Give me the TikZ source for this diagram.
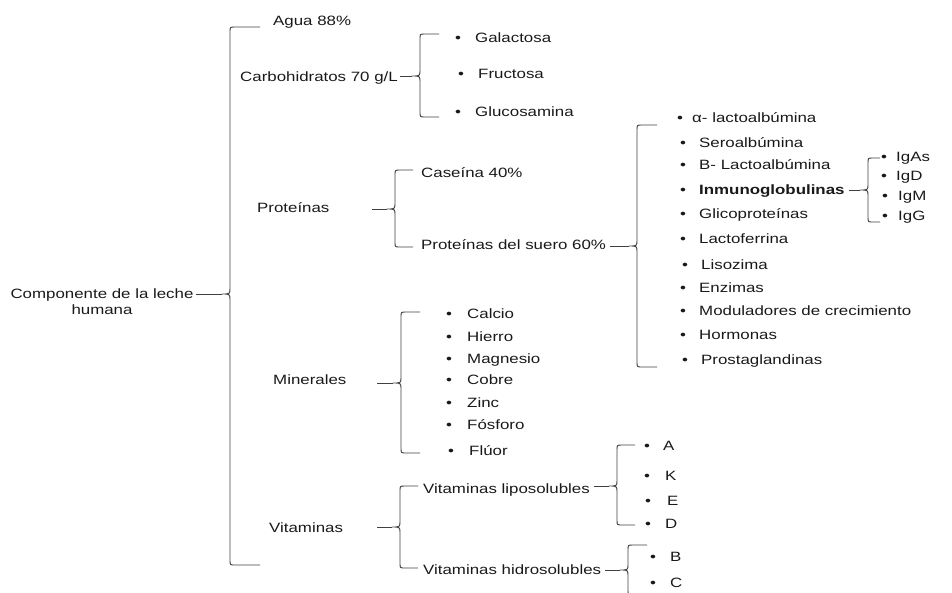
\documentclass[tikz,border=0pt]{standalone}
\usepackage{fontspec}
\setmainfont[FakeStretch=1.25]{Liberation Sans}
\usetikzlibrary{calc}
\tikzset{
  lbl/.style={anchor=base west, inner sep=0pt, text=black!90},
  bul/.style={anchor=base, inner sep=0pt, text=black!90},
  brc/.style={draw=black!75, line width=0.9pt, line join=round},
}
% #1 label name, #2 x, #3 y centre, #4 text
\newcommand{\mylab}[4]{\node[lbl] (#1) at (#2,#3+5) {#4};}
% #1 name, #2 bullet x, #3 text x, #4 y centre, #5 text
\newcommand{\myitem}[5]{\node[bul] (#1b) at (#2,#4+5) {\textbullet}; \node[lbl] (#1) at (#3,#4+5) {#5};}
% #1 tip name, #2 vertical x, #3 top, #4 middle, #5 bottom, #6 hook end x
\newcommand{\mybrace}[6]{%
  \coordinate (#1) at (#2-8,#4);
  \draw[brc] (#6,#3) -- (#2+5,#3) .. controls (#2,#3) .. (#2,#3+5) -- (#2,#4-6)
    .. controls (#2,#4) .. (#1) .. controls (#2,#4) .. (#2,#4+6) -- (#2,#5-5)
    .. controls (#2,#5) .. (#2+5,#5) -- (#6,#5);
}
\begin{document}
\begin{tikzpicture}[x=1pt,y=-1pt,font=\fontsize{13.5}{16}\selectfont]
\useasboundingbox (0,0) rectangle (952,592);
\clip (0,0) rectangle (952,592);

% root
\node[align=center, inner sep=0pt, text=black!90] (comp) at (102,302) {Componente de la leche\\humana};
\mybrace{mainT}{230}{27}{294}{565}{260}
\draw[brc] ($(comp.east |- mainT)+(2,0)$) -- (mainT);

% agua
\mylab{agua}{273}{20}{Agua 88\%}

% carbohidratos
\mylab{carb}{240}{76}{Carbohidratos 70 g/L}
\mybrace{carbT}{420}{34}{76}{117}{439}
\draw[brc] ($(carb.east |- carbT)+(2,0)$) -- (carbT);
\myitem{gal}{458}{475}{37}{Galactosa}
\myitem{fru}{461}{478}{73}{Fructosa}
\myitem{glu}{458}{475}{111}{Glucosamina}

% proteinas
\mylab{prot}{257}{207}{Proteínas}
\coordinate (protS) at (372,209);
\mybrace{protT}{395}{170}{209}{247}{413}
\draw[brc] (protS) -- (protT);
\mylab{cas}{421}{172}{Caseína 40\%}
\mylab{suero}{421}{244}{Proteínas del suero 60\%}
\mybrace{sueroT}{637}{125}{246}{367}{657}
\draw[brc] ($(suero.east |- sueroT)+(4,0)$) -- (sueroT);
\myitem{alfa}{680}{692}{117}{α- lactoalbúmina}
\myitem{sero}{683}{699}{142}{Seroalbúmina}
\myitem{blac}{683}{699}{164}{B- Lactoalbúmina}
\myitem{inm}{683}{699}{189}{\bfseries Inmunoglobulinas}
\myitem{gli}{683}{699}{213}{Glicoproteínas}
\myitem{lfe}{683}{699}{238}{Lactoferrina}
\myitem{lis}{685}{701}{264}{Lisozima}
\myitem{enz}{683}{699}{287}{Enzimas}
\myitem{mod}{683}{699}{310}{Moduladores de crecimiento}
\myitem{hor}{683}{699}{334}{Hormonas}
\myitem{pro}{685}{701}{359}{Prostaglandinas}
\mybrace{inmT}{868}{158}{190}{222}{880}
\draw[brc] ($(inm.east |- inmT)+(4,0)$) -- (inmT);
\myitem{iga}{884}{896}{156}{IgAs}
\myitem{igd}{884}{896}{175}{IgD}
\myitem{igm}{885}{898}{195}{IgM}
\myitem{igg}{885}{898}{215}{IgG}

% minerales
\mylab{min}{273}{379}{Minerales}
\coordinate (minS) at (377,383);
\mybrace{minT}{401}{312}{383}{453}{420}
\draw[brc] (minS) -- (minT);
\myitem{cal}{449}{467}{313}{Calcio}
\myitem{hie}{449}{467}{336}{Hierro}
\myitem{mag}{449}{467}{358}{Magnesio}
\myitem{cob}{449}{467}{379}{Cobre}
\myitem{zin}{449}{467}{402}{Zinc}
\myitem{fos}{449}{467}{424}{Fósforo}
\myitem{flu}{451}{469}{450}{Flúor}

% vitaminas
\mylab{vit}{269}{527}{Vitaminas}
\coordinate (vitS) at (377,527);
\mybrace{vitT}{400}{486}{527}{568}{418}
\draw[brc] (vitS) -- (vitT);
\mylab{lipo}{423}{488}{Vitaminas liposolubles}
\mylab{hidro}{423}{569}{Vitaminas hidrosolubles}
\mybrace{lipoT}{617}{445}{486}{525}{635}
\draw[brc] ($(lipo.east |- lipoT)+(4,0)$) -- (lipoT);
\myitem{va}{647}{663}{445}{A}
\myitem{vk}{647}{665}{475}{K}
\myitem{ve}{648}{667}{500}{E}
\myitem{vd}{648}{665}{523}{D}
\mybrace{hidroT}{628}{545}{570}{595}{647}
\draw[brc] ($(hidro.east |- hidroT)+(4,0)$) -- (hidroT);
\myitem{vb}{653}{670}{556}{B}
\myitem{vc}{653}{670}{582}{C}
\end{tikzpicture}
\end{document}
